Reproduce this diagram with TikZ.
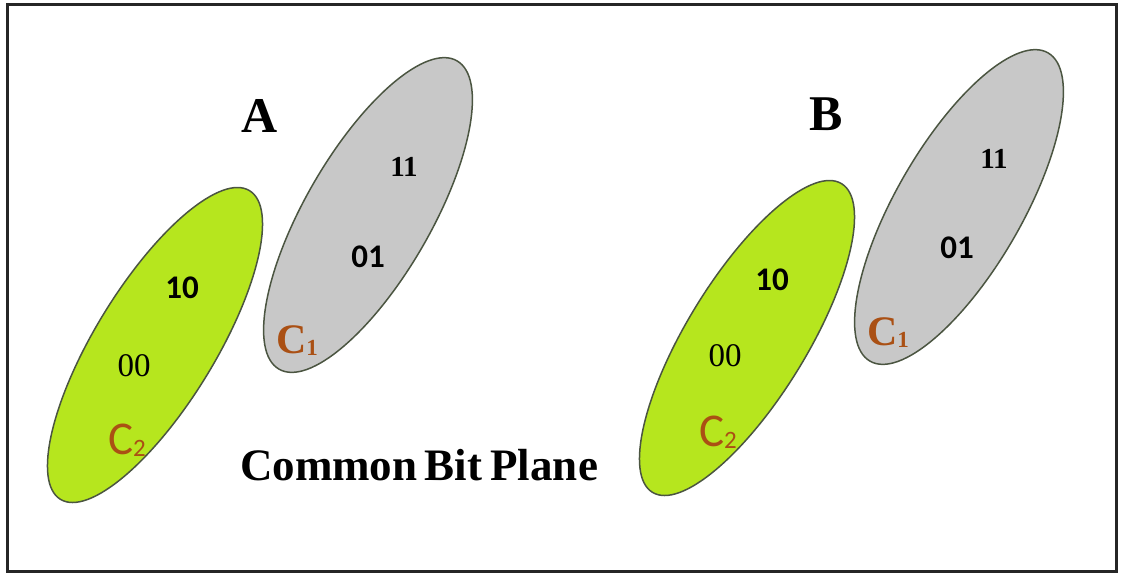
\documentclass[tikz,border=0pt]{standalone}
\usepackage{fontspec}
\setmainfont{Liberation Serif}
\newfontfamily\carl{Carlito}
\usetikzlibrary{shapes.geometric}
\definecolor{limefill}{RGB}{182,230,30}
\definecolor{greyfill}{RGB}{200,200,200}
\definecolor{rimcol}{RGB}{75,85,65}
\definecolor{clsbrown}{RGB}{170,80,20}
\tikzset{
  blob/.style={draw=rimcol, line width=1.5pt, ellipse, inner sep=0pt},
  lime/.style={blob, fill=limefill, minimum width=362pt, minimum height=120pt, rotate=58.5},
  grey/.style={blob, fill=greyfill, minimum width=356pt, minimum height=126pt, rotate=60},
  title/.style={font=\bfseries\fontsize{50}{50}\selectfont},
  bitsans/.style={font=\carl\bfseries\fontsize{33}{33}\selectfont},
  bitserif/.style={font=\fontsize{33}{33}\selectfont},
  bitserifb/.style={font=\bfseries\fontsize{29}{29}\selectfont},
  clsA/.style={text=clsbrown, font=\bfseries\fontsize{42}{42}\selectfont},
  clsB/.style={text=clsbrown, font=\carl\fontsize{47}{47}\selectfont},
}
\begin{document}
\begin{tikzpicture}[x=1pt,y=-1pt]
\useasboundingbox (0,0) rectangle (1121,574);
\node[draw=black!85, line width=2.4pt, minimum width=1109pt, minimum height=567pt, inner sep=0pt] (frame) at (562,288) {};

% plane A
\node[lime] (a2) at (155,345) {};
\node[grey] (a1) at (368,215) {};
\node[title] (la) at (260,116) {A};
\node[bitserifb] (a11) at (404,167) {11};
\node[bitsans] (a01) at (368,257) {01};
\node[clsA] (ac1) at (297,341) {C\raisebox{-2pt}{\fontsize{23}{23}\selectfont 1}};
\node[bitsans] (a10) at (182,288) {10};
\node[bitserif] (a00) at (134,366) {00};
\node[clsB] (ac2) at (127,440) {C\raisebox{-2pt}{\fontsize{25}{25}\selectfont 2}};

% plane B
\node[lime] (b2) at (747,338) {};
\node[grey] (b1) at (959,207) {};
\node[title] (lb) at (826,114) {B};
\node[bitserifb] (b11) at (994,159) {11};
\node[bitsans] (b01) at (957,248) {01};
\node[clsA] (bc1) at (888,333) {C\raisebox{-2pt}{\fontsize{23}{23}\selectfont 1}};
\node[bitsans] (b10) at (772,280) {10};
\node[bitserif] (b00) at (725,356) {00};
\node[clsB] (bc2) at (718,432) {C\raisebox{-2pt}{\fontsize{25}{25}\selectfont 2}};

\node[font=\bfseries\fontsize{45}{45}\selectfont] (cap) at (419,465) {Common\kern-4pt\ Bit\kern-3pt\ Plane};
\end{tikzpicture}
\end{document}
